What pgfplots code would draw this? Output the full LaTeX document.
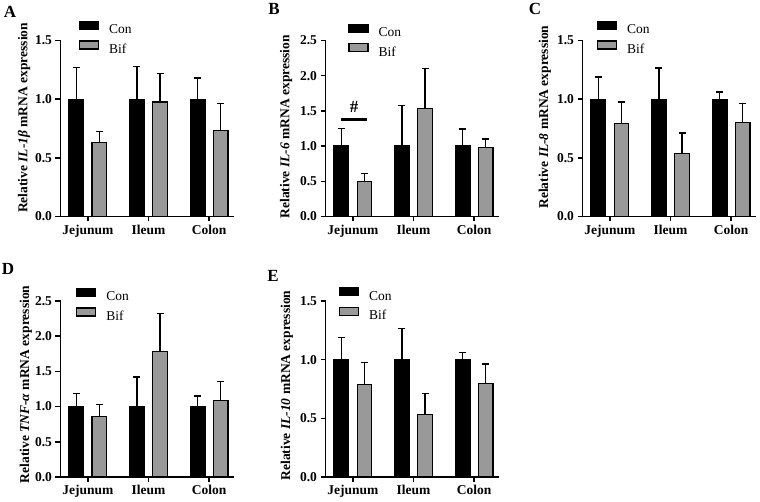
\documentclass[border=0pt]{standalone}
\usepackage{fontspec}
\setmainfont{Liberation Serif}
\usepackage{pgfplots}
\pgfplotsset{compat=1.18}
\usepackage{pgfplotstable}

\definecolor{bifgray}{RGB}{153,153,153}

% categories at 0 Jejunum, 1 Ileum, 2 Colon; xc/xb = bar centres of Con/Bif
\pgfplotstableread{
xc xb con cone bif bife
-0.19 0.19 1.00 0.27 0.63 0.095
0.81 1.19 1.00 0.28 0.975 0.243
1.81 2.19 1.00 0.18 0.73 0.233
}\dataA
\pgfplotstableread{
xc xb con cone bif bife
-0.19 0.19 1.00 0.25 0.50 0.11
0.81 1.19 1.00 0.58 1.53 0.57
1.81 2.19 1.00 0.24 0.975 0.125
}\dataB
\pgfplotstableread{
xc xb con cone bif bife
-0.19 0.19 1.00 0.19 0.79 0.185
0.81 1.19 1.00 0.265 0.535 0.175
1.81 2.19 1.00 0.062 0.80 0.162
}\dataC
\pgfplotstableread{
xc xb con cone bif bife
-0.19 0.19 1.00 0.19 0.86 0.17
0.81 1.19 1.00 0.42 1.78 0.54
1.81 2.19 1.00 0.15 1.09 0.27
}\dataD
\pgfplotstableread{
xc xb con cone bif bife
-0.19 0.19 1.00 0.19 0.79 0.185
0.81 1.19 1.00 0.265 0.535 0.175
1.81 2.19 1.00 0.062 0.80 0.162
}\dataE

\newcommand{\fs}{\fontsize{13.5}{16}\selectfont}

\pgfplotsset{
  panel/.style={
    scale only axis, width=173pt, height=176pt,
    xmin=-0.45, xmax=2.4, ymin=0,
    axis x line*=bottom, axis y line*=left,
    axis line style={line width=1.5pt, black},
    tick style={line width=1.5pt, black},
    tick align=outside, major tick length=5pt,
    xtick={0,1,2}, xticklabels={Jejunum,Ileum,Colon},
    tick label style={font=\fs\bfseries},
    /pgf/number format/assume math mode=true,
    yticklabel style={/pgf/number format/.cd, fixed, fixed zerofill, precision=1},
    ylabel style={font=\fs\bfseries, anchor=center},
    legend style={draw=none, fill=none, inner sep=0pt, outer sep=0pt,
      anchor=north west, font=\fs, row sep=5pt, column sep=0pt, nodes={inner sep=0pt}},
    legend cell align=left,
    clip=false,
  },
  errs/.style={error bars/.cd, y dir=plus, y explicit, error mark=-,
      error bar style={line width=1.4pt, black},
      error mark options={rotate=90, mark size=3.5pt, line width=1.4pt, black}},
  conbar/.style={ybar, bar width=14.5pt, bar shift=0pt, fill=black, draw=black, line width=1.2pt,
      legend image code/.code={\draw[fill=black,draw=black,line width=1.2pt] (0pt,0.5pt) rectangle (19pt,8.5pt); \path (29pt,4pt);},
      errs},
  bifbar/.style={ybar, bar width=14.5pt, bar shift=0pt, fill=bifgray, draw=black, line width=1.2pt,
      legend image code/.code={\draw[fill=bifgray,draw=black,line width=1.2pt] (0pt,0.5pt) rectangle (19pt,8.5pt); \path (29pt,4pt);},
      errs},
}

\begin{document}
\begin{tikzpicture}
\path[use as bounding box] (0pt,0pt) rectangle (760pt,502pt);

% Panel A
\begin{axis}[panel, at={(60.5pt,285.5pt)}, anchor=south west,
  ymax=1.5, ytick={0,0.5,1,1.5},
  ylabel={Relative \textit{IL-1β} mRNA expression},
  ylabel style={at={(axis description cs:-0.211,0.56)}},
  legend style={at={(axis description cs:0.107,1.11)}}]
\addplot[conbar] table[x=xc, y=con, y error=cone] {\dataA};
\addplot[bifbar] table[x=xb, y=bif, y error=bife] {\dataA};
\legend{Con,Bif}
\end{axis}

% Panel B
\begin{axis}[panel, at={(325.5pt,285.5pt)}, anchor=south west,
  ymax=2.5, ytick={0,0.5,1,1.5,2,2.5},
  ylabel={Relative \textit{IL-6} mRNA expression},
  ylabel style={at={(axis description cs:-0.228,0.51)}},
  legend style={at={(axis description cs:0.132,1.095)}}]
\addplot[conbar] table[x=xc, y=con, y error=cone] {\dataB};
\addplot[bifbar] table[x=xb, y=bif, y error=bife] {\dataB};
\addplot[black, line width=2.5pt, forget plot] coordinates {(-0.19,1.375) (0.23,1.375)};
\node[font=\fontsize{17}{19}\selectfont\bfseries] at (axis cs:0.02,1.56) {\#};
\legend{Con,Bif}
\end{axis}

% Panel C
\begin{axis}[panel, at={(582.5pt,285.5pt)}, anchor=south west,
  ymax=1.5, ytick={0,0.5,1,1.5},
  ylabel={Relative \textit{IL-8} mRNA expression},
  ylabel style={at={(axis description cs:-0.217,0.565)}},
  legend style={at={(axis description cs:0.084,1.11)}}]
\addplot[conbar] table[x=xc, y=con, y error=cone] {\dataC};
\addplot[bifbar] table[x=xb, y=bif, y error=bife] {\dataC};
\legend{Con,Bif}
\end{axis}

% Panel D
\begin{axis}[panel, at={(60.5pt,25pt)}, anchor=south west,
  ymax=2.5, ytick={0,0.5,1,1.5,2,2.5},
  ylabel={Relative \textit{TNF-α} mRNA expression},
  ylabel style={at={(axis description cs:-0.2,0.526)}},
  legend style={at={(axis description cs:0.09,1.073)}}]
\addplot[conbar] table[x=xc, y=con, y error=cone] {\dataD};
\addplot[bifbar] table[x=xb, y=bif, y error=bife] {\dataD};
\legend{Con,Bif}
\end{axis}

% Panel E
\begin{axis}[panel, at={(325.5pt,25pt)}, anchor=south west,
  ymax=1.5, ytick={0,0.5,1,1.5},
  ylabel={Relative \textit{IL-10} mRNA expression},
  ylabel style={at={(axis description cs:-0.223,0.52)}},
  legend style={at={(axis description cs:0.078,1.078)}}]
\addplot[conbar] table[x=xc, y=con, y error=cone] {\dataE};
\addplot[bifbar] table[x=xb, y=bif, y error=bife] {\dataE};
\legend{Con,Bif}
\end{axis}

% panel letters
\node[font=\fontsize{17}{19}\selectfont\bfseries] at (10pt,490pt) {A};
\node[font=\fontsize{17}{19}\selectfont\bfseries] at (274pt,493pt) {B};
\node[font=\fontsize{17}{19}\selectfont\bfseries] at (535pt,493pt) {C};
\node[font=\fontsize{17}{19}\selectfont\bfseries] at (8pt,233pt) {D};
\node[font=\fontsize{17}{19}\selectfont\bfseries] at (273pt,226pt) {E};
\end{tikzpicture}
\end{document}
